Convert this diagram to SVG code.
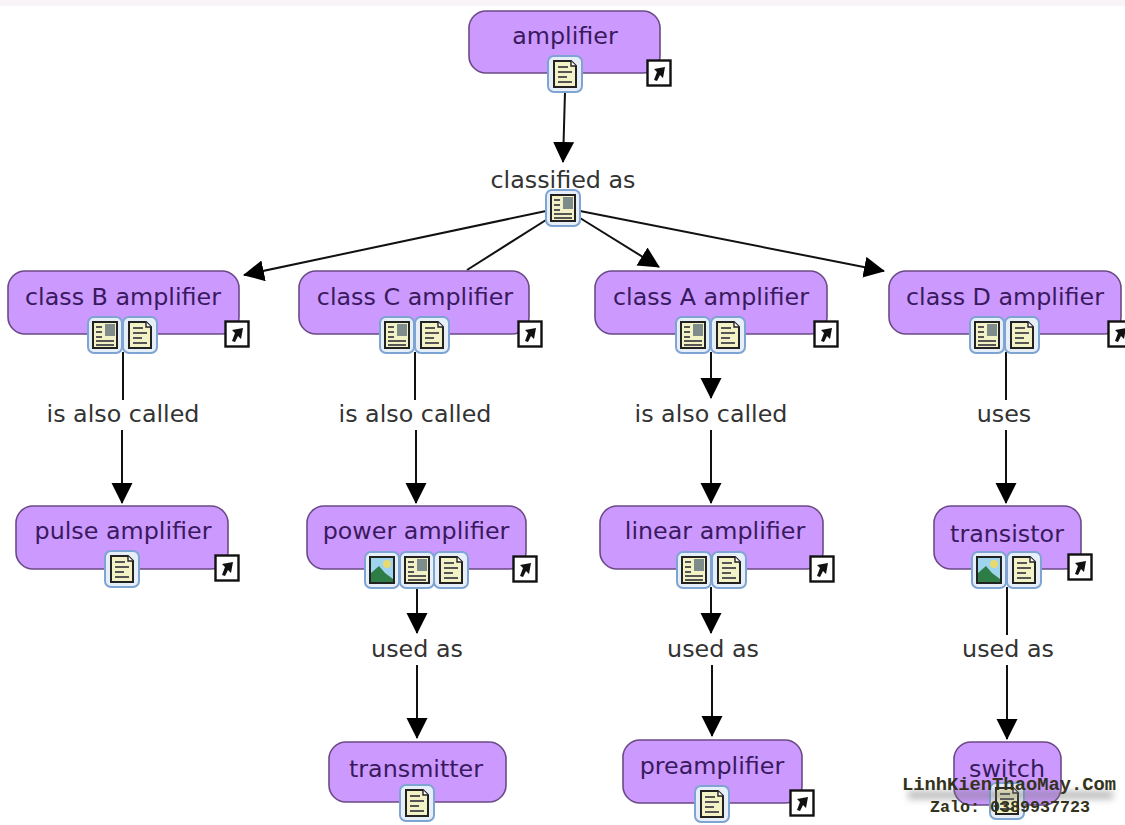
<svg xmlns="http://www.w3.org/2000/svg" xmlns:xlink="http://www.w3.org/1999/xlink" width="1125" height="825" viewBox="0 0 1125 825">
<style>
.n{fill:#cc99ff;stroke:#6b4a86;stroke-width:1.6}
.t{font-family:"DejaVu Sans","Liberation Sans",sans-serif;font-size:23.800px;text-anchor:middle}
.nt{fill:#3a1a5e}
.lt{fill:#333}
.c{stroke:#111;stroke-width:2;fill:none}
.wm{font-family:"Liberation Mono",monospace;font-weight:bold;fill:#33331c;text-anchor:middle}
</style>
<defs>
<marker id="a" markerUnits="userSpaceOnUse" markerWidth="24" markerHeight="24" refX="20" refY="10.500" orient="auto"><path d="M0 0L21 10.500L0 21Z" fill="#000"/></marker>
<filter id="bl" x="-20%" y="-150%" width="140%" height="400%"><feGaussianBlur stdDeviation="3.500"/></filter>
<g id="ib"><rect x="-17" y="-18" width="34" height="36" rx="6" fill="#e6eef8" stroke="#7ea4d4" stroke-width="2"/></g>
<g id="doc"><use xlink:href="#ib"/><path d="M-11-13H6L11-8V13H-11Z" fill="#f3f1c6" stroke="#222" stroke-width="2"/><path d="M6-13V-8H11" fill="#fff" stroke="#222" stroke-width="1.400"/><path d="M-7-7H3M-7-2H7M-7 3H2M-7 8H7" stroke="#555" stroke-width="2"/></g>
<g id="nt"><use xlink:href="#ib"/><rect x="-12" y="-13" width="24" height="26" fill="#f3f1c6" stroke="#222" stroke-width="2"/><rect x="0" y="-11" width="10" height="12" fill="#7f8c8c"/><path d="M-9-8H-3M-9-3H-3M-9 2H-3M-9 6H9M-9 10H9" stroke="#555" stroke-width="2"/></g>
<g id="pic"><use xlink:href="#ib"/><rect x="-12" y="-13" width="24" height="26" fill="#9fd4ee" stroke="#222" stroke-width="2"/><circle cx="5" cy="-6" r="4" fill="#e8d870"/><path d="M-11 12V3L-3-4L3 3L11 9V12Z" fill="#2f7d46"/></g>
<g id="ln"><rect x="-11.500" y="-12.500" width="23" height="25" fill="#fff" stroke="#111" stroke-width="2.400"/><path d="M-5 7L-2-1L-5-4L6-6L4 5L1 2L-2 8Z" fill="#111"/></g>
</defs>
<rect width="1125" height="825" fill="#fff"/>
<rect width="1125" height="6" fill="#f8f4f8"/>
<g id="connectors">
<path class="c" d="M565 92L563 162" marker-end="url(#a)"/>
<path class="c" d="M546 211L244 275" marker-end="url(#a)"/>
<path class="c" d="M546 220L467 270"/>
<path class="c" d="M580 218L659 267" marker-end="url(#a)"/>
<path class="c" d="M580 211L884 271" marker-end="url(#a)"/>
<path class="c" d="M123 352V400"/><path class="c" d="M122 430V503" marker-end="url(#a)"/>
<path class="c" d="M415 352V400"/><path class="c" d="M416 430V503" marker-end="url(#a)"/>
<path class="c" d="M711 352V398" marker-end="url(#a)"/><path class="c" d="M711 430V503" marker-end="url(#a)"/>
<path class="c" d="M1006 352V400"/><path class="c" d="M1006 430V503" marker-end="url(#a)"/>
<path class="c" d="M417 587V633" marker-end="url(#a)"/><path class="c" d="M417 665V738" marker-end="url(#a)"/>
<path class="c" d="M711 587V633" marker-end="url(#a)"/><path class="c" d="M712 665V736" marker-end="url(#a)"/>
<path class="c" d="M1007 587V635"/><path class="c" d="M1007 665V739" marker-end="url(#a)"/>
</g>
<g id="n-amplifier"><rect class="n" x="469" y="11" width="191" height="62" rx="17"/><text class="t nt" x="565" y="44">amplifier</text><use xlink:href="#doc" x="565" y="74"/><use xlink:href="#ln" x="659" y="73"/></g>
<g id="l-classified"><text class="t lt" x="563" y="188">classified as</text><use xlink:href="#nt" x="563" y="208"/></g>
<g id="n-classb"><rect class="n" x="8" y="271" width="231" height="63" rx="17"/><text class="t nt" x="123" y="305">class B amplifier</text><use xlink:href="#nt" x="105" y="335"/><use xlink:href="#doc" x="140" y="335"/><use xlink:href="#ln" x="237" y="334"/></g>
<g id="n-classc"><rect class="n" x="299" y="271" width="230" height="63" rx="17"/><text class="t nt" x="415" y="305">class C amplifier</text><use xlink:href="#nt" x="397" y="335"/><use xlink:href="#doc" x="432" y="335"/><use xlink:href="#ln" x="530" y="334"/></g>
<g id="n-classa"><rect class="n" x="595" y="271" width="232" height="63" rx="17"/><text class="t nt" x="711" y="305">class A amplifier</text><use xlink:href="#nt" x="693" y="335"/><use xlink:href="#doc" x="728" y="335"/><use xlink:href="#ln" x="826" y="334"/></g>
<g id="n-classd"><rect class="n" x="889" y="271" width="232" height="63" rx="17"/><text class="t nt" x="1005" y="305">class D amplifier</text><use xlink:href="#nt" x="987" y="335"/><use xlink:href="#doc" x="1022" y="335"/><use xlink:href="#ln" x="1120" y="334"/></g>
<text class="t lt" x="123" y="422">is also called</text>
<text class="t lt" x="415" y="422">is also called</text>
<text class="t lt" x="711" y="422">is also called</text>
<text class="t lt" x="1004" y="422">uses</text>
<g id="n-pulse"><rect class="n" x="16" y="506" width="212" height="63" rx="17"/><text class="t nt" x="123" y="539">pulse amplifier</text><use xlink:href="#doc" x="122" y="569"/><use xlink:href="#ln" x="227" y="568"/></g>
<g id="n-power"><rect class="n" x="307" y="506" width="219" height="63" rx="17"/><text class="t nt" x="416" y="539">power amplifier</text><use xlink:href="#pic" x="382" y="570"/><use xlink:href="#nt" x="417" y="570"/><use xlink:href="#doc" x="451" y="570"/><use xlink:href="#ln" x="525" y="569"/></g>
<g id="n-linear"><rect class="n" x="600" y="506" width="223" height="63" rx="17"/><text class="t nt" x="715" y="539">linear amplifier</text><use xlink:href="#nt" x="694" y="570"/><use xlink:href="#doc" x="729" y="570"/><use xlink:href="#ln" x="822" y="569"/></g>
<g id="n-transistor"><rect class="n" x="934" y="506" width="147" height="63" rx="17"/><text class="t nt" x="1007" y="542">transistor</text><use xlink:href="#pic" x="989" y="570"/><use xlink:href="#doc" x="1024" y="570"/><use xlink:href="#ln" x="1080" y="567"/></g>
<text class="t lt" x="417" y="657">used as</text>
<text class="t lt" x="713" y="657">used as</text>
<text class="t lt" x="1008" y="657">used as</text>
<g id="n-transmitter"><rect class="n" x="329" y="742" width="177" height="60" rx="17"/><text class="t nt" x="416" y="777">transmitter</text><use xlink:href="#doc" x="417" y="803"/></g>
<g id="n-preamplifier"><rect class="n" x="623" y="740" width="179" height="63" rx="17"/><text class="t nt" x="712" y="774">preamplifier</text><use xlink:href="#doc" x="712" y="804"/><use xlink:href="#ln" x="802" y="803"/></g>
<g id="n-switch"><rect class="n" x="954" y="742" width="107" height="63" rx="17"/><text class="t nt" x="1007" y="777">switch</text><use xlink:href="#doc" x="1007" y="801"/></g>
<g id="watermark">
<rect x="908" y="791" width="205" height="8" fill="#777" opacity=".5" filter="url(#bl)"/>
<text class="wm" x="1009" y="790" font-size="18.800">LinhKienThaoMay.Com</text>
<text class="wm" x="1010" y="812" font-size="16.700">Zalo: 0389937723</text>
</g>
</svg>
